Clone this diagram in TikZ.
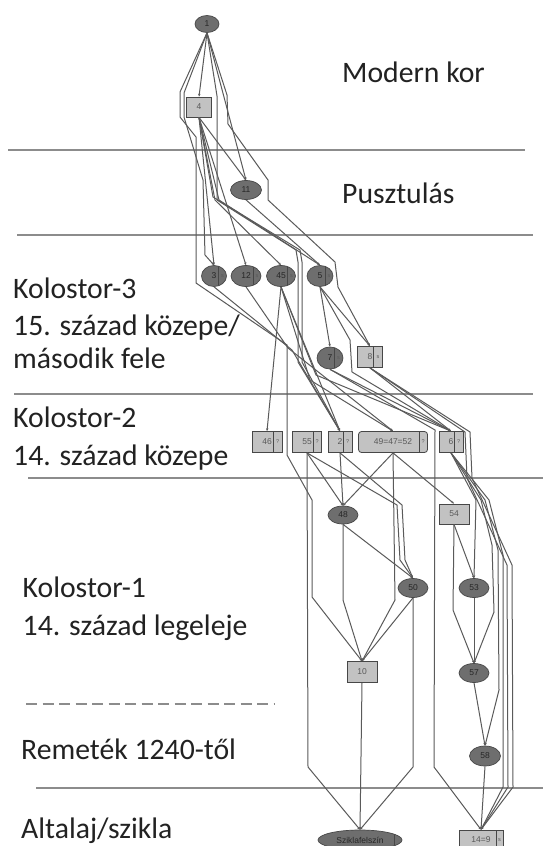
\documentclass[tikz,border=0pt]{standalone}
\usepackage{fontspec}
\setmainfont{Carlito}
\newfontfamily\ctxfont{Liberation Sans}
\usetikzlibrary{arrows.meta,positioning,calc,shapes.geometric}
\definecolor{edgeGray}{HTML}{5A5A5A}
\definecolor{sepGray}{HTML}{8C8C8C}
\definecolor{ellFill}{HTML}{6E6E6E}
\definecolor{boxFill}{HTML}{C2C2C2}
\definecolor{nodeEdge}{HTML}{474747}
\definecolor{labText}{HTML}{222222}

\begin{document}
\begin{tikzpicture}[x=1pt, y=-1pt, >=Stealth,
  edge/.style={edgeGray, line width=1pt, -{Stealth[length=2.8pt,width=2.4pt]}},
  sep/.style={sepGray, line width=1.3pt},
  era/.style={anchor=base west, inner sep=0pt, text=labText, font=\fontsize{29.7}{32}\selectfont},
  ell/.style={ellipse, draw=nodeEdge, fill=ellFill, line width=0.7pt, inner sep=0pt,
    minimum width=30pt, minimum height=19pt, text=black!85, font=\ctxfont\fontsize{8.5}{9}\selectfont},
  box/.style={rectangle, draw=nodeEdge, fill=boxFill, line width=0.8pt, inner sep=0pt,
    minimum width=30pt, minimum height=21pt, text=black!65, font=\ctxfont\fontsize{8.5}{9}\selectfont},
  cell/.style 2 args={path picture={
    \draw[nodeEdge, line width=0.7pt] ([xshift=-#1]path picture bounding box.north east)
      -- ([xshift=-#1]path picture bounding box.south east);
    \node[inner sep=0pt, text=black!65, font=\ctxfont\fontsize{5.5}{6}\selectfont]
      at ([xshift=-#1/2]path picture bounding box.east) {#2};}}]
\clip (0,0) rectangle (543,846);
\fill[white] (0,0) rectangle (543,846);

% period borders
\draw[sep] (8,150) -- (525,150);
\draw[sep] (17,235) -- (533,235);
\draw[sep] (14,394) -- (533,394);
\draw[sep] (28,478) -- (543,478);
\draw[sep] (36,788) -- (543,788);
\draw[sep, dash pattern=on 11pt off 5.5pt] (26,704) -- (274,704);

% period labels
\node[era] (p1) at (342,82) {Modern kor};
\node[era] (p2) at (342,203.5) {Pusztulás};
\node[era] (p3a) at (13,298.5) {Kolostor-3};
\node[era] (p3b) at (13,335.5) {15. század közepe/};
\node[era] (p3c) at (13,368.5) {második fele};
\node[era] (p4a) at (13,427.5) {Kolostor-2};
\node[era] (p4b) at (13,465.5) {14. század közepe};
\node[era] (p5a) at (22.5,597.5) {Kolostor-1};
\node[era] (p5b) at (22.5,635.5) {14. század legeleje};
\node[era] (p6) at (21,759.5) {Remeték 1240-től};
\node[era] (p7) at (21,838.5) {Altalaj/szikla};

% contexts
\node[ell, minimum width=24pt, minimum height=17pt] (c1) at (207,24) {1};
\node[box, minimum width=25pt, minimum height=20pt] (c4) at (199,107) {4};
\node[ell, minimum width=31pt] (c11) at (246,190) {11};
\node[ell, minimum width=25pt, minimum height=21pt, cell={8pt}{s}] (c3) at (214,276) {3\hspace{8pt}};
\node[ell, minimum height=21pt, cell={8pt}{s}] (c12) at (246,276) {12\hspace{8pt}};
\node[ell, minimum width=29pt, minimum height=21pt, cell={8pt}{s}] (c45) at (281,276) {45\hspace{8pt}};
\node[ell, minimum width=26pt, minimum height=21pt, cell={8pt}{s}] (c5) at (320,276) {5\hspace{8pt}};
\node[ell, minimum width=26pt, minimum height=22pt, cell={9pt}{s}] (c7) at (330,358) {7\hspace{9pt}};
\node[box, minimum width=25pt, cell={9pt}{s}] (c8) at (370,357) {8\hspace{9pt}};
\node[box, cell={8.5pt}{?}] (c46) at (267,442) {46\hspace{8.5pt}};
\node[box, minimum width=29pt, cell={8.5pt}{?}] (c55) at (307,442) {55\hspace{8.5pt}};
\node[box, minimum width=24pt, cell={8.5pt}{?}] (c2) at (340,442) {2\hspace{8.5pt}};
\node[box, minimum width=69pt, rounded corners=3pt, cell={8.5pt}{?}] (c49) at (393,442) {49=47=52\hspace{8.5pt}};
\node[box, minimum width=24pt, cell={8.5pt}{?}] (c6) at (451,442) {6\hspace{8.5pt}};
\node[ell, minimum height=18pt] (c48) at (343,515) {48};
\node[box, minimum height=20pt] (c54) at (454,514) {54};
\node[ell] (c50) at (413,588) {50};
\node[ell] (c53) at (474,588) {53};
\node[box] (c10) at (362,672) {10};
\node[ell] (c57) at (474,673) {57};
\node[ell, minimum width=31pt, minimum height=20pt] (c58) at (485,756) {58};
\node[ell, minimum width=84pt, minimum height=20pt, cell={7.5pt}{}] (csz) at (360,840) {Sziklafelszín\hspace{7.5pt}};
\node[box, minimum width=44pt, minimum height=20pt, cell={7pt}{s}] (c14) at (481,840) {14=9\hspace{7pt}};

% upper part
\draw[edge] (c1.south) -- (c4.north);
\draw[edge] (c1.south) -- (c11.north);
\draw[edge] (c1.south) -- (180,92) -- (180,117) -- (196,137) -- (196,283) -- (287,345)
  -- (287,455) -- (312,500) -- (312,597) -- (c10.north);
\draw[edge] (c1.south) -- (184,93) -- (184,117) -- (203,180) -- (205,255) -- (c3.north);
\draw[edge] (c1.south) -- (217,96) -- (217,200) -- (296,250) -- (298,262) -- (298,362) -- (c2.north);
\draw[edge] (c1.south) -- (227,95) -- (228,124) -- (268,180) -- (268,200) -- (335,262)
  -- (338,287) -- (c8.north);
\draw[edge] (c4.south) -- (c11.north);
\draw[edge] (c4.south) -- (c3.north);
\draw[edge] (c4.south) -- (c12.north);
\draw[edge] (c4.south) -- (215,200) -- (c45.north);
\draw[edge] (c4.south) -- (219,200) -- (c5.north);
\draw[edge] (c4.south) -- (213,197) -- (300,250) -- (302,262) -- (302,362) -- (c2.north);
\draw[edge] (c11.south) -- (c5.north);

% Kolostor-3
\draw[edge] (c3.south) -- (292,350) -- (c2.north);
\draw[edge] (c12.south) -- (288,348) -- (c49.north);
\draw[edge] (c45.south) -- (c46.north);
\draw[edge] (c45.south) -- (c2.north);
\draw[edge] (c45.south) -- (310,380) -- (c49.north);
\draw[edge] (c45.south) -- (316,375) -- (c6.north);
\draw[edge] (c5.south) -- (c7.north);
\draw[edge] (c5.south) -- (c8.north);
\draw[edge] (c5.south) -- (350,340) -- (352,372) -- (c6.north);
\draw[edge] (c7.south) -- (c6.north);
\draw[edge] (c7.south) -- (435,430) -- (434,767) -- (c14.north);
\draw[edge] (c8.south) -- (c6.north);
\draw[edge] (c8.south) -- (465,432) -- (467,478) -- (507,565) -- (508,787) -- (c14.north);
\draw[edge] (c8.south) -- (470,432) -- (472,478) -- (512,565) -- (513,787) -- (c14.north);

% Kolostor-2
\draw[edge] (c55.south) -- (308,767) -- (csz.north);
\draw[edge] (c55.south) -- (c48.north);
\draw[edge] (c55.south) -- (397,505) -- (400,560) -- (c50.north);
\draw[edge] (c2.south) -- (c48.north);
\draw[edge] (c2.south) -- (402,505) -- (405,560) -- (c50.north);
\draw[edge] (c49.south) -- (c48.north);
\draw[edge] (c49.south) -- (395,600) -- (c10.north);
\draw[edge] (c49.south) -- (c54.north);
\draw[edge] (c6.south) -- (476,500) -- (c53.north);
\draw[edge] (c6.south) -- (481,500) -- (492,545) -- (494,612) -- (c57.north);
\draw[edge] (c6.south) -- (485,500) -- (498,550) -- (499,690) -- (c58.north);
\draw[edge] (c6.south) -- (489,500) -- (503,555) -- (503,787) -- (c14.north);

% Kolostor-1 and below
\draw[edge] (c48.south) -- (343,600) -- (c10.north);
\draw[edge] (c48.south) -- (c50.north);
\draw[edge] (c50.south) -- (c10.north);
\draw[edge] (c50.south) -- (413,767) -- (csz.north);
\draw[edge] (c10.south) -- (csz.north);
\draw[edge] (c54.south) -- (c53.north);
\draw[edge] (c54.south) -- (453,610) -- (c57.north);
\draw[edge] (c53.south) -- (c57.north);
\draw[edge] (c57.south) -- (c58.north);
\draw[edge] (c58.south) -- (c14.north);
\end{tikzpicture}
\end{document}
